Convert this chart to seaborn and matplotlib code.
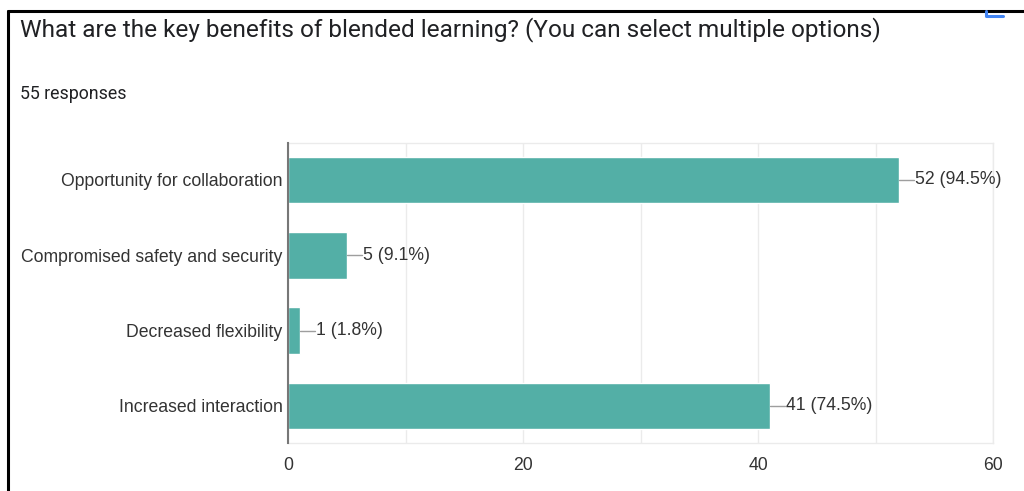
import matplotlib
matplotlib.use('Agg')
import matplotlib.pyplot as plt
from matplotlib.lines import Line2D
import pandas as pd
import seaborn as sns

# survey data
options = [
    'Opportunity for collaboration',
    'Compromised safety and security',
    'Decreased flexibility',
    'Increased interaction',
]
counts = [52, 5, 1, 41]
percents = [94.5, 9.1, 1.8, 74.5]
total_responses = 55
x_ticks = [0, 20, 40, 60]

sns.set_style('white')
plt.rcParams['font.family'] = ['Liberation Sans', 'DejaVu Sans']
head_font = ['Roboto', 'DejaVu Sans']

df = pd.DataFrame({'option': options, 'count': counts})

fig = plt.figure(figsize=(10.24, 4.91), dpi=100)
ax = fig.add_axes([0.28125, 0.0978, 0.6885, 0.611])

sns.barplot(data=df, x='count', y='option', orient='h', color='#53afa6',
            saturation=1, width=0.62, ax=ax, zorder=2)

ax.set_xlim(0, 60)
ax.set_xticks(x_ticks)
ax.set_xticks(range(0, 61, 10), minor=True)
ax.grid(axis='x', which='both', color='#ebebeb', linewidth=1, zorder=0)
ax.tick_params(axis='both', length=0, labelsize=12.7, labelcolor='#333333')
ax.tick_params(axis='x', pad=10)
ax.tick_params(axis='y', pad=4)
ax.set_xlabel('')
ax.set_ylabel('')

for side in ['top', 'right', 'bottom']:
    ax.spines[side].set_color('#ebebeb')
    ax.spines[side].set_linewidth(1)
ax.spines['left'].set_color('#777777')
ax.spines['left'].set_linewidth(1.5)
ax.spines['left'].set_zorder(3)

# leader line + label for each bar
for i, (c, p) in enumerate(zip(counts, percents)):
    ax.plot([c, c + 1.3], [i, i], color='#9e9e9e', linewidth=1, zorder=3,
            clip_on=False)
    ax.text(c + 1.35, i, f'{c} ({p}%)', va='center', ha='left',
            fontsize=12.7, color='#333333', clip_on=False)

fig.text(20 / 1024, 1 - 30 / 491, 'What are the key benefits of blended learning? '
         '(You can select multiple options)', fontsize=17.6, color='#202124',
         va='center', ha='left', family=head_font)
fig.text(20 / 1024, 1 - 94 / 491, f'{total_responses} responses',
         fontsize=12.8, color='#202124', va='center', ha='left',
         family=head_font)

# screenshot frame
fig.add_artist(Line2D([8 / 1024, 1], [1 - 10.5 / 491, 1 - 10.5 / 491],
                      color='black', linewidth=2.2))
fig.add_artist(Line2D([8 / 1024, 8 / 1024], [0, 1 - 10.5 / 491],
                      color='black', linewidth=2.2))
fig.add_artist(Line2D([986 / 1024, 986 / 1024, 1003 / 1024],
                      [1 - 11 / 491, 1 - 15.5 / 491, 1 - 15.5 / 491],
                      color='#4285f4', linewidth=2.2))

fig.savefig('out.png', dpi=100)
